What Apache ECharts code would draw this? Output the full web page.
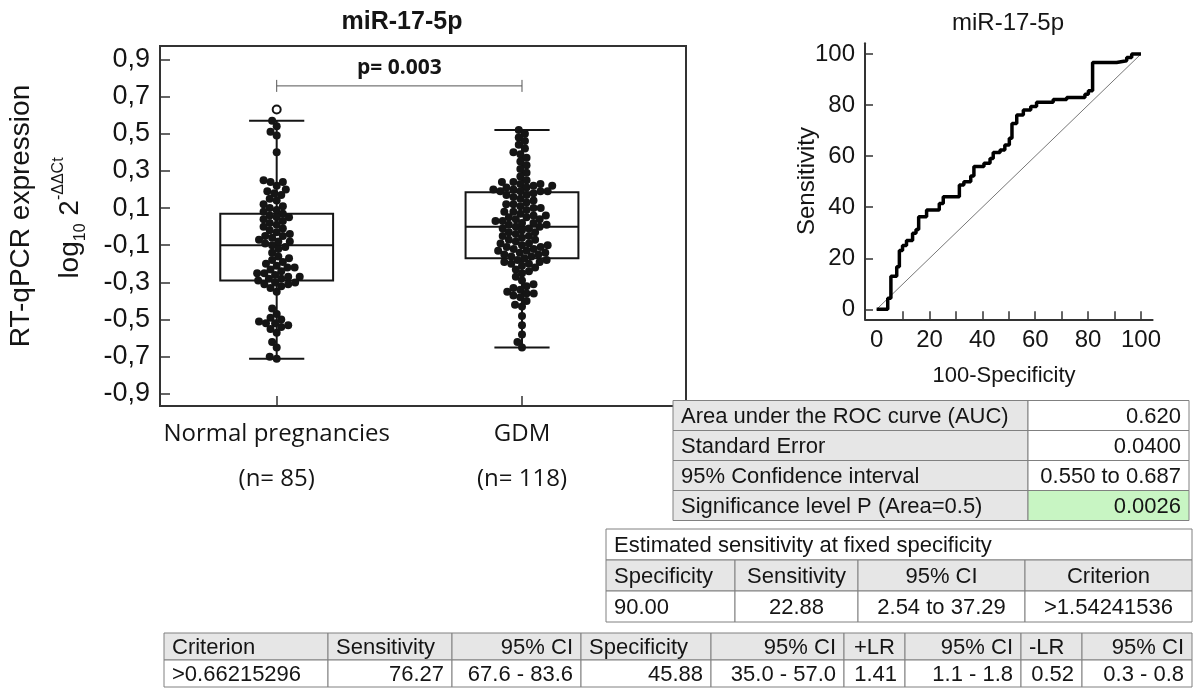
<!DOCTYPE html>
<html>
<head>
<meta charset="utf-8">
<script src="https://cdn.jsdelivr.net/npm/echarts@6/dist/echarts.min.js"></script>
<style>
html,body{margin:0;padding:0;background:#fff;}
#c{width:1195px;height:695px;}
</style>
</head>
<body>
<div id="c"></div>
<script>
// ---------------- DATA ----------------
const categories = ['Normal pregnancies', 'GDM'];
const groupCounts = ['(n= 85)', '(n= 118)'];
// [min, Q1, median, Q3, max]
const boxStats = [
  [-0.71, -0.29, -0.10, 0.07, 0.57],
  [-0.65, -0.17, 0.00, 0.185, 0.52]
];
const normalValues = [
  0.57, 0.54, 0.51, 0.49, 0.40, 0.25, 0.24, 0.24, 0.22, 0.20,
  0.19, 0.18, 0.17, 0.15, 0.14, 0.12, 0.11, 0.10, 0.09, 0.08,
  0.07, 0.06, 0.05, 0.05, 0.04, 0.03, 0.02, 0.01, 0.00, -0.01,
  -0.02, -0.03, -0.04, -0.05, -0.05, -0.06, -0.07, -0.08, -0.08, -0.09,
  -0.10, -0.11, -0.12, -0.14, -0.16, -0.17, -0.18, -0.19, -0.20, -0.21,
  -0.22, -0.22, -0.23, -0.24, -0.25, -0.25, -0.26, -0.27, -0.27, -0.28,
  -0.28, -0.29, -0.30, -0.30, -0.31, -0.31, -0.32, -0.33, -0.35, -0.44,
  -0.47, -0.49, -0.50, -0.51, -0.52, -0.52, -0.53, -0.54, -0.55, -0.57,
  -0.62, -0.65, -0.70, -0.71
];
const gdmValues = [
  0.52, 0.50, 0.48, 0.46, 0.44, 0.42, 0.40, 0.39, 0.37, 0.35,
  0.33, 0.31, 0.29, 0.27, 0.25, 0.24, 0.24, 0.23, 0.23, 0.22,
  0.22, 0.21, 0.21, 0.20, 0.20, 0.19, 0.19, 0.19, 0.19,
  0.18, 0.17, 0.17, 0.16, 0.15, 0.14, 0.13, 0.12, 0.12, 0.11,
  0.10, 0.10, 0.09, 0.08, 0.08, 0.07, 0.06, 0.06, 0.05, 0.05,
  0.04, 0.04, 0.03, 0.03, 0.02, 0.02, 0.01, 0.01, 0.00, 0.00,
  -0.01, -0.01, -0.02, -0.03, -0.03, -0.04, -0.05, -0.05, -0.06, -0.07,
  -0.07, -0.08, -0.09, -0.09, -0.10, -0.10, -0.11, -0.11, -0.12, -0.12,
  -0.13, -0.13, -0.14, -0.14, -0.15, -0.15, -0.16, -0.16, -0.17,
  -0.18, -0.18, -0.19, -0.19, -0.20, -0.20, -0.21, -0.22, -0.23, -0.24,
  -0.25, -0.27, -0.29, -0.31, -0.32, -0.33, -0.34, -0.35, -0.36, -0.36,
  -0.37, -0.38, -0.40, -0.42, -0.43, -0.48, -0.53, -0.58, -0.62, -0.65
];
// [category index, value]
const outlierValues = [[0, 0.63]];
const pValueLabel = 'p= 0.003';
const bracketLevel = 0.757;
const boxYTicks = [-0.9, -0.7, -0.5, -0.3, -0.1, 0.1, 0.3, 0.5, 0.7, 0.9];
const boxTitle = 'miR-17-5p';
const boxYName = 'RT-qPCR expression';

// ROC curve: [100-Specificity, Sensitivity]
const rocCurve = [
  [0, 0], [4.2, 4.3], [5.4, 13.0], [7.6, 16.7], [8.6, 23.0], [9.8, 25.0],
  [11.3, 27.0], [13.6, 29.8], [14.9, 31.3], [15.9, 36.3], [18.9, 38.9],
  [23.7, 41.5], [25.2, 44.1], [31.3, 48.7], [33.0, 50.0], [35.6, 52.2],
  [36.8, 55.9], [40.6, 57.2], [42.9, 59.1], [44.1, 61.4], [46.7, 62.4],
  [48.5, 64.4], [50.2, 67.0], [51.2, 72.8], [53.0, 76.1], [55.5, 78.1],
  [58.3, 79.4], [60.5, 81.1], [66.8, 82.2], [71.9, 83.0], [78.8, 84.2],
  [80.1, 85.6], [81.7, 96.7], [90.8, 97.4], [94.6, 98.6], [96.5, 100], [100, 100]
];
const rocDiagonal = [[0, 0], [100, 100]];
const rocLabelTicks = [0, 20, 40, 60, 80, 100];
const rocXTicks = [10, 20, 30, 40, 50, 60, 70, 80, 90, 100];
const rocTitle = 'miR-17-5p';
const rocXName = '100-Specificity';
const rocYName = 'Sensitivity';

const t1Labels = ['Area under the ROC curve (AUC)', 'Standard Error', '95% Confidence interval', 'Significance level P (Area=0.5)'];
const t1Values = ['0.620', '0.0400', '0.550 to 0.687', '0.0026'];
const t2Title = 'Estimated sensitivity at fixed specificity';
const t2Header = ['Specificity', 'Sensitivity', '95% CI', 'Criterion'];
const t2Row = ['90.00', '22.88', '2.54 to 37.29', '>1.54241536'];
const t3Header = ['Criterion', 'Sensitivity', '95% CI', 'Specificity', '95% CI', '+LR', '95% CI', '-LR', '95% CI'];
const t3Row = ['>0.66215296', '76.27', '67.6 - 83.6', '45.88', '35.0 - 57.0', '1.41', '1.1 - 1.8', '0.52', '0.3 - 0.8'];

// ---------------- LAYOUT / STYLE ----------------
const SANS = "'Liberation Sans', Arial, sans-serif";
const OPEN = "'Open Sans', 'Liberation Sans', sans-serif";
const INK = '#151515';
const BOX_WIDTH = 0.46, CAP_WIDTH = 0.225;
const DOT_SIZE = 8, DOT_SPACING = 7.2;

const T1 = { x: [673, 1028, 1189], y0: 400.5, h: 30, fs: 22 };
const T2 = { x: [606, 735, 858, 1025, 1192], y0: 529, h: 31, fs: 22 };
const T3 = { x: [164, 328, 452, 581, 711, 844, 905, 1021, 1082, 1192], y0: 633, h: 27, fs: 22 };
const T2Align = ['left', 'center', 'center', 'center'];
const T3HeadAlign = ['left', 'left', 'right', 'left', 'right', 'center', 'right', 'left', 'right'];
const T3RowAlign = ['left', 'right', 'right', 'right', 'right', 'right', 'right', 'right', 'right'];

function cell(x0, x1, y0, h, text, align, fill, fs) {
  const pad = 8;
  const tx = align === 'left' ? x0 + pad : align === 'right' ? x1 - pad : (x0 + x1) / 2;
  return [
    { type: 'rect', shape: { x: x0, y: y0, width: x1 - x0, height: h },
      style: { fill: fill, stroke: '#808080', lineWidth: 1 }, z: 1 },
    { type: 'text', x: tx, y: y0 + h / 2 + 1,
      style: { text: text, fontFamily: SANS, fontSize: fs, fill: INK, align: align, verticalAlign: 'middle' }, z: 2 }
  ];
}

function buildTables() {
  const els = [];
  const GRAY = '#e6e6e6', WHITE = '#ffffff', GREEN = '#c8f5c3';
  t1Labels.forEach((lab, i) => {
    const y = T1.y0 + i * T1.h;
    els.push(...cell(T1.x[0], T1.x[1], y, T1.h, lab, 'left', GRAY, T1.fs));
    els.push(...cell(T1.x[1], T1.x[2], y, T1.h, t1Values[i], 'right', i === t1Labels.length - 1 ? GREEN : WHITE, T1.fs));
  });
  els.push(...cell(T2.x[0], T2.x[T2.x.length - 1], T2.y0, T2.h, t2Title, 'left', WHITE, T2.fs));
  t2Header.forEach((t, i) => {
    els.push(...cell(T2.x[i], T2.x[i + 1], T2.y0 + T2.h, T2.h, t, T2Align[i], GRAY, T2.fs));
    els.push(...cell(T2.x[i], T2.x[i + 1], T2.y0 + 2 * T2.h, T2.h, t2Row[i], T2Align[i], WHITE, T2.fs));
  });
  t3Header.forEach((t, i) => {
    els.push(...cell(T3.x[i], T3.x[i + 1], T3.y0, T3.h, t, T3HeadAlign[i], GRAY, T3.fs));
    els.push(...cell(T3.x[i], T3.x[i + 1], T3.y0 + T3.h, T3.h, t3Row[i], T3RowAlign[i], WHITE, T3.fs));
  });
  return els;
}

function renderBox(params, api) {
  const x = api.value(0);
  const mn = api.value(1), q1 = api.value(2), md = api.value(3), q3 = api.value(4), mx = api.value(5);
  const bw = api.size([BOX_WIDTH, 0])[0];
  const cw = api.size([CAP_WIDTH, 0])[0];
  const pT = api.coord([x, q3]), pB = api.coord([x, q1]), pM = api.coord([x, md]);
  const pMax = api.coord([x, mx]), pMin = api.coord([x, mn]);
  const cx = pT[0];
  const st = { stroke: INK, lineWidth: 2, fill: 'transparent' };
  return { type: 'group', children: [
    { type: 'line', shape: { x1: cx, y1: pT[1], x2: cx, y2: pMax[1] }, style: st },
    { type: 'line', shape: { x1: cx, y1: pB[1], x2: cx, y2: pMin[1] }, style: st },
    { type: 'line', shape: { x1: cx - cw / 2, y1: pMax[1], x2: cx + cw / 2, y2: pMax[1] }, style: st },
    { type: 'line', shape: { x1: cx - cw / 2, y1: pMin[1], x2: cx + cw / 2, y2: pMin[1] }, style: st },
    { type: 'rect', shape: { x: cx - bw / 2, y: pT[1], width: bw, height: pB[1] - pT[1] }, style: st },
    { type: 'line', shape: { x1: cx - bw / 2, y1: pM[1], x2: cx + bw / 2, y2: pM[1] }, style: st }
  ]};
}

function renderBracket(params, api) {
  const a = api.coord([api.value(0), api.value(2)]);
  const b = api.coord([api.value(1), api.value(2)]);
  const st = { stroke: '#555', lineWidth: 1 };
  return { type: 'group', children: [
    { type: 'line', shape: { x1: a[0], y1: a[1], x2: b[0], y2: b[1] }, style: st },
    { type: 'line', shape: { x1: a[0], y1: a[1] - 6, x2: a[0], y2: a[1] + 6 }, style: st },
    { type: 'line', shape: { x1: b[0], y1: b[1] - 6, x2: b[0], y2: b[1] + 6 }, style: st },
    { type: 'text', x: (a[0] + b[0]) / 2, y: a[1] - 18,
      style: { text: pValueLabel, fontFamily: OPEN, fontWeight: 'bold', fontSize: 21, fill: INK, align: 'center', verticalAlign: 'middle' } }
  ]};
}

const chart = echarts.init(document.getElementById('c'), null, { renderer: 'canvas' });

const option = {
  animation: false,
  backgroundColor: '#ffffff',
  grid: [
    { left: 160, top: 46, width: 526, height: 360, show: true, borderColor: '#333', borderWidth: 2, backgroundColor: 'transparent' },
    { left: 865, top: 43.3, width: 287.6, height: 276 }
  ],
  xAxis: [
    { gridIndex: 0, type: 'value', min: 0.5243, max: 2.6686,
      splitLine: { show: false }, axisLine: { show: false, onZero: false },
      axisTick: { show: true, inside: true, length: 10, customValues: [1, 2], lineStyle: { color: '#333', width: 1.5 } },
      axisLabel: { customValues: [1, 2], margin: 6, fontFamily: OPEN, fontSize: 24, color: INK, lineHeight: 45,
        formatter: v => categories[Math.round(v) - 1] + '\n' + groupCounts[Math.round(v) - 1] } },
    { gridIndex: 1, type: 'value', min: -4.4, max: 104.4,
      splitLine: { show: false }, axisLine: { show: true, onZero: false, lineStyle: { color: '#333', width: 2 } },
      axisTick: { show: true, inside: true, length: 8, customValues: rocXTicks, lineStyle: { color: '#333', width: 1.5 } },
      axisLabel: { customValues: rocLabelTicks, margin: 9, fontFamily: SANS, fontSize: 24, color: INK } }
  ],
  yAxis: [
    { gridIndex: 0, type: 'value', min: -0.9646, max: 0.9716,
      splitLine: { show: false }, axisLine: { show: false, onZero: false },
      axisTick: { show: true, inside: true, length: 10, customValues: boxYTicks, lineStyle: { color: '#333', width: 1.5 } },
      axisLabel: { customValues: boxYTicks, margin: 10, fontFamily: SANS, fontSize: 27, color: INK,
        formatter: v => Number(v).toFixed(1).replace('.', ',') } },
    { gridIndex: 1, type: 'value', min: -3.9, max: 104.2,
      splitLine: { show: false }, axisLine: { show: true, onZero: false, lineStyle: { color: '#333', width: 2 } },
      axisTick: { show: true, inside: true, length: 8, customValues: rocLabelTicks, lineStyle: { color: '#333', width: 1.5 } },
      axisLabel: { customValues: rocLabelTicks, margin: 10, fontFamily: SANS, fontSize: 24, color: INK } }
  ],
  series: [
    { id: 'box', type: 'custom', xAxisIndex: 0, yAxisIndex: 0, renderItem: renderBox,
      data: boxStats.map((s, i) => [i + 1].concat(s)), z: 2, silent: true },
    { id: 'dotsN', type: 'scatter', xAxisIndex: 0, yAxisIndex: 0, symbolSize: DOT_SIZE,
      itemStyle: { color: INK, opacity: 1 }, data: [], z: 3 },
    { id: 'dotsG', type: 'scatter', xAxisIndex: 0, yAxisIndex: 0, symbolSize: DOT_SIZE,
      itemStyle: { color: INK, opacity: 1 }, data: [], z: 3 },
    { id: 'outliers', type: 'scatter', xAxisIndex: 0, yAxisIndex: 0, symbolSize: 8,
      itemStyle: { color: '#fff', borderColor: INK, borderWidth: 2, opacity: 1 },
      data: outlierValues.map(o => [o[0] + 1, o[1]]), z: 4 },
    { id: 'bracket', type: 'custom', xAxisIndex: 0, yAxisIndex: 0, renderItem: renderBracket,
      data: [[1, 2, bracketLevel]], z: 4, silent: true },
    { id: 'diag', type: 'line', xAxisIndex: 1, yAxisIndex: 1, data: rocDiagonal, symbol: 'none',
      lineStyle: { color: '#777', width: 1 }, z: 2, silent: true },
    { id: 'roc', type: 'line', xAxisIndex: 1, yAxisIndex: 1, data: rocCurve, step: 'end', symbol: 'none',
      lineStyle: { color: '#000', width: 3.5 }, z: 3, silent: true }
  ],
  graphic: [
    { type: 'text', x: 402, y: 22, style: { text: boxTitle, fontFamily: SANS, fontWeight: 'bold', fontSize: 25, fill: INK, align: 'center', verticalAlign: 'middle' } },
    { type: 'text', x: 21, y: 216, rotation: Math.PI / 2,
      style: { text: boxYName, fontFamily: SANS, fontSize: 28, fill: INK, align: 'center', verticalAlign: 'middle' } },
    { type: 'text', x: 70, y: 218, rotation: Math.PI / 2,
      style: { text: '{a|log}{b|10}{a| 2}{c|-ΔΔCt}', fill: INK, align: 'center', verticalAlign: 'middle',
        rich: {
          a: { fontFamily: SANS, fontSize: 28, lineHeight: 38, fill: INK },
          b: { fontFamily: SANS, fontSize: 16, verticalAlign: 'bottom', lineHeight: 18, fill: INK },
          c: { fontFamily: SANS, fontSize: 16, verticalAlign: 'top', lineHeight: 18, fill: INK }
        } } },
    { type: 'text', x: 1008, y: 23, style: { text: rocTitle, fontFamily: SANS, fontSize: 24, fill: INK, align: 'center', verticalAlign: 'middle' } },
    { type: 'text', x: 807, y: 181, rotation: Math.PI / 2,
      style: { text: rocYName, fontFamily: SANS, fontSize: 24, fill: INK, align: 'center', verticalAlign: 'middle' } },
    { type: 'text', x: 1004, y: 376, style: { text: rocXName, fontFamily: SANS, fontSize: 22, fill: INK, align: 'center', verticalAlign: 'middle' } }
  ].concat(buildTables())
};

chart.setOption(option);

// Beeswarm layout computed from values in pixel space
function swarm(values, pxPerY, D) {
  const order = values.map((v, i) => i).sort((a, b) => values[a] - values[b]);
  const placed = [];
  const out = new Array(values.length);
  for (const i of order) {
    const y = values[i] * pxPerY;
    const ivs = [];
    for (const p of placed) {
      const dy = Math.abs(p.y - y);
      if (dy < D) { const dx = Math.sqrt(D * D - dy * dy); ivs.push([p.x - dx, p.x + dx]); }
    }
    const cands = [0];
    ivs.forEach(iv => cands.push(iv[0], iv[1]));
    cands.sort((a, b) => Math.abs(a) - Math.abs(b));
    let chosen = 0;
    for (const c of cands) {
      if (ivs.every(iv => c <= iv[0] + 1e-6 || c >= iv[1] - 1e-6)) { chosen = c; break; }
    }
    placed.push({ x: chosen, y: y });
    out[i] = chosen;
  }
  return out;
}
const pA = chart.convertToPixel({ gridIndex: 0 }, [1, 0]);
const pB = chart.convertToPixel({ gridIndex: 0 }, [2, 1]);
const pxPerX = pB[0] - pA[0];
const pxPerY = pA[1] - pB[1];
function swarmData(values, cx) {
  const offs = swarm(values, pxPerY, DOT_SPACING);
  return values.map((v, i) => [cx + offs[i] / pxPerX, v]);
}
chart.setOption({ series: [
  { id: 'dotsN', data: swarmData(normalValues, 1) },
  { id: 'dotsG', data: swarmData(gdmValues, 2) }
] });
</script>
</body>
</html>
